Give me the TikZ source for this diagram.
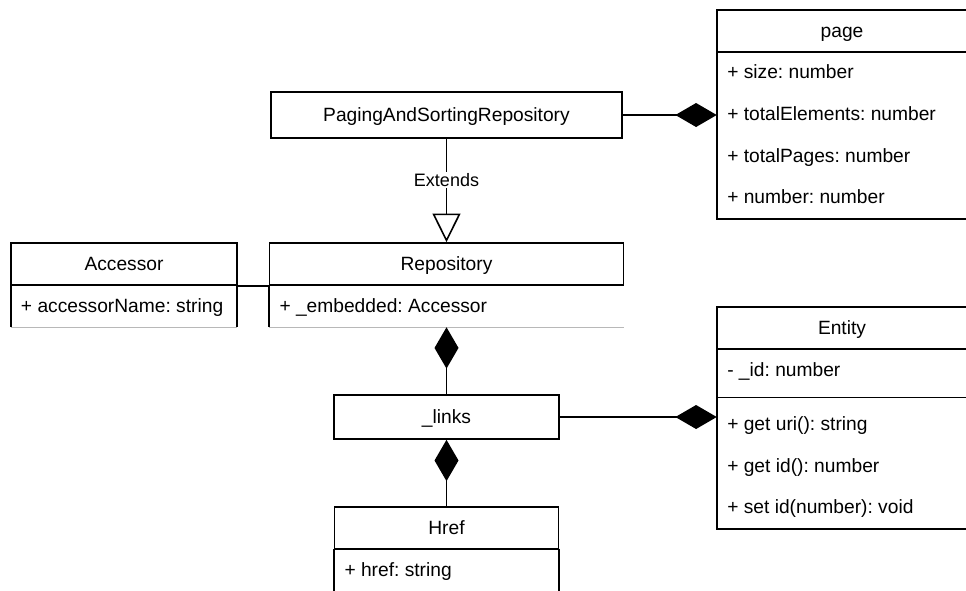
\documentclass[tikz,border=0pt]{standalone}
\usepackage{fontspec}
\setmainfont{Liberation Sans}
\usetikzlibrary{arrows.meta}
\frenchspacing
% one drawing unit = one pixel of the layout grid
\def\pu{0.75pt}
\tikzset{
  line/.style={line width=1.2pt, draw=black},
  txt/.style={font=\fontsize{14.4}{17}\selectfont, text height=0.9em, text depth=0pt},
  box/.style={txt, draw, line width=1.2pt, fill=white, inner sep=0pt},
  area/.style={inner sep=0pt},
  attr/.style={txt, anchor=west, inner sep=0pt},
  faint/.style={line width=0.75pt, draw=black!28},
  lbl/.style={font=\fontsize{13.5}{16}\selectfont, text height=0.9em, text depth=0pt, fill=white, inner sep=1.5pt},
  comp/.style={line, -{Diamond[length=31pt, width=18pt, fill=black]}},
  gen/.style={line, -{Triangle[open, length=21.5pt, width=21pt, fill=white]}},
}
\begin{document}
\begin{tikzpicture}[x=0.75pt, y=-0.75pt]
\useasboundingbox (0,0) rectangle (966,590);

% ---- classes ----
\node[box, minimum width=351*\pu, minimum height=46*\pu] (psr) at (446.5,115) {PagingAndSortingRepository};

\node[box, minimum width=354*\pu, minimum height=42*\pu] (repoH) at (446.5,264) {Repository};
\node[area, minimum width=354*\pu, minimum height=42*\pu] (repoB) at (446.5,306) {};
\node[attr] (repoA) at ([xshift=10*\pu]repoB.west) {+ \_embedded: Accessor};

\node[box, minimum width=226*\pu, minimum height=42*\pu] (accH) at (124,264) {Accessor};
\node[area, minimum width=226*\pu, minimum height=42*\pu] (accB) at (124,306) {};
\node[attr] (accA) at ([xshift=10*\pu]accB.west) {+ accessorName: string};

\node[box, minimum width=225*\pu, minimum height=44*\pu] (links) at (446.5,417) {\_links};

\node[box, minimum width=224*\pu, minimum height=42*\pu] (hrefH) at (446.5,528) {Href};
\node[area, minimum width=224*\pu, minimum height=42*\pu] (hrefB) at (446.5,570) {};
\node[attr] (hrefA) at ([xshift=10*\pu]hrefB.west) {+ href: string};

\node[box, minimum width=250*\pu, minimum height=42*\pu] (pageH) at (842,31) {page};
\node[area, minimum width=250*\pu, minimum height=167*\pu] (pageB) at (842,135.5) {};
\node[attr] (pg1) at (727,72.8)  {+ size: number};
\node[attr] (pg2) at (727,114.4) {+ totalElements: number};
\node[attr] (pg3) at (727,156)   {+ totalPages: number};
\node[attr] (pg4) at (727,197.6) {+ number: number};

\node[box, minimum width=250*\pu, minimum height=42*\pu] (entH) at (842,328) {Entity};
\node[area, minimum width=250*\pu, minimum height=42*\pu] (entA) at (842,370) {};
\node[area, minimum width=250*\pu, minimum height=13*\pu] (entS) at (842,397.5) {};
\node[area, minimum width=250*\pu, minimum height=125*\pu] (entM) at (842,466.5) {};
\node[attr] (en0) at (727,370)   {- \_id: number};
\node[attr] (en1) at (727,424.6) {+ get uri(): string};
\node[attr] (en2) at (727,466.2) {+ get id(): number};
\node[attr] (en3) at (727,507.8) {+ set id(number): void};

% ---- compartment borders ----
\draw[line] (repoB.north west) -- (repoB.south west);
\draw[faint] (repoB.south west) -- (repoB.south east);
\draw[line] (accB.north west) -- (accB.south west);
\draw[line] (accB.north east) -- (accB.south east);
\draw[faint] (accB.south west) -- (accB.south east);
\draw[line] (hrefB.north west) -- (hrefB.south west);
\draw[line] (hrefB.north east) -- (hrefB.south east);
\draw[line] (pageB.north west) -- (pageB.south west) -- (pageB.south east);
\draw[line] (entA.north west) -- (entM.south west) -- (entM.south east);
\draw[line] (entS.west) -- (entS.east);

% ---- relations ----
\draw[gen] (psr.south) -- node[lbl, pos=0.4] {Extends} (psr.south |- repoH.north);
\draw[comp] (psr.east) -- (psr.east -| pageB.west);
\draw[line] (accH.south east) -- (repoH.south west);
\draw[comp] (links.north) -- (links.north |- repoB.south);
\draw[comp] (hrefH.north) -- (hrefH.north |- links.south);
\draw[comp] (links.east) -- (links.east -| entM.west);
\end{tikzpicture}
\end{document}
